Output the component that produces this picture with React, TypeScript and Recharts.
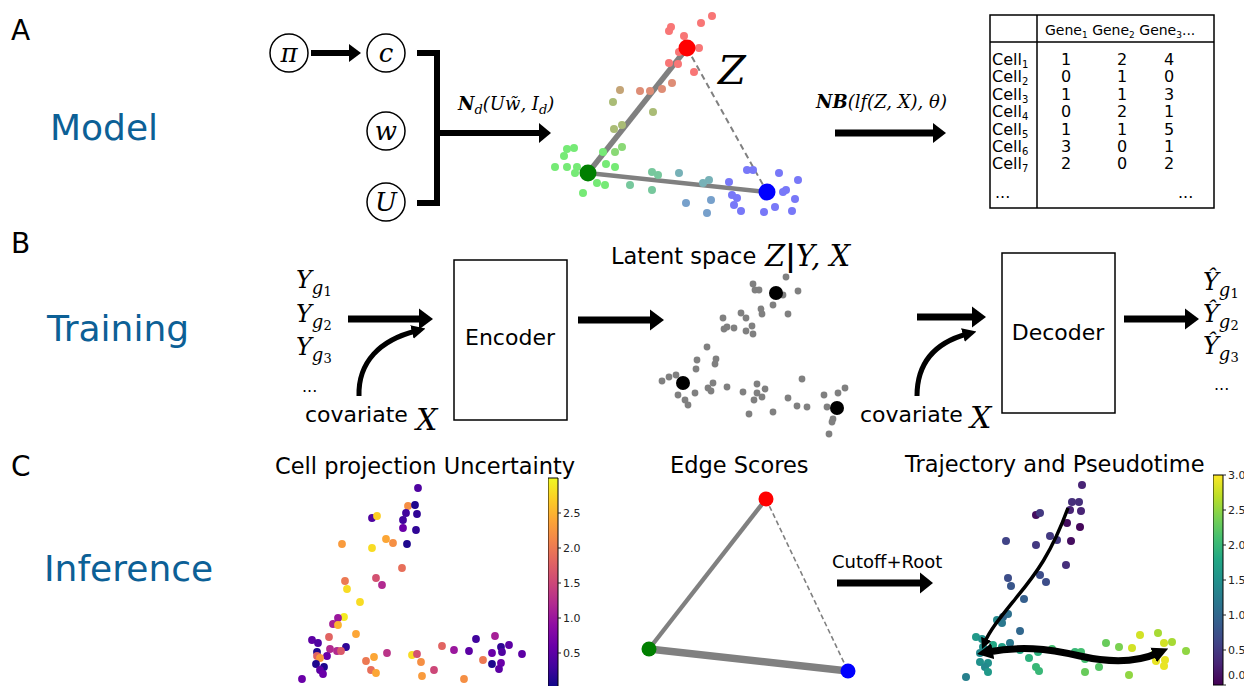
import React from "react";
import { ScatterChart, Scatter, XAxis, YAxis, ReferenceArea } from "recharts";

const SANS = "'DejaVu Sans', Verdana, sans-serif";
const SERIF = "'DejaVu Serif', 'Liberation Serif', serif";
const BLUE = "#0c6096";
const PAGE_H = 686;

// A: simulated cells, [x, y, pRed, pGreen, pBlue] (membership of the three vertices)
const modelCells: number[][] = [
  [17.2, 21.4, 1, 0, 0], [16.1, 20.7, 1, 0, 0], [13.1, 20.3, 1, 0, 0], [12.9, 19.9, 1, 0, 0],
  [14.4, 19.4, 1, 0, 0], [15.9, 18.2, 1, 0, 0], [13.9, 17.8, 1, 0, 0], [12.9, 16.7, 1, 0, 0],
  [13.8, 16.6, 1, 0, 0], [15.4, 15.8, 1, 0, 0],
  [13.2, 14.7, 0.8, 0.2, 0], [10.0, 13.9, 0.8, 0.2, 0], [11.0, 13.9, 0.8, 0.2, 0], [12.2, 14.1, 0.8, 0.2, 0],
  [8.0, 14.0, 0.6, 0.4, 0],
  [7.3, 12.8, 0.4, 0.6, 0], [11.3, 11.8, 0.4, 0.6, 0], [7.4, 10.1, 0.4, 0.6, 0], [8.2, 10.5, 0.4, 0.6, 0],
  [8.2, 8.3, 0.15, 0.85, 0], [7.5, 7.8, 0.15, 0.85, 0],
  [6.3, 7.8, 0, 1, 0], [3.4, 8.2, 0, 1, 0], [2.7, 8.1, 0, 1, 0], [2.4, 7.4, 0, 1, 0], [1.5, 6.3, 0, 1, 0],
  [2.7, 6.3, 0, 1, 0], [3.7, 6.3, 0, 1, 0], [3.5, 5.7, 0, 1, 0], [6.6, 6.6, 0, 1, 0], [7.5, 6.3, 0, 1, 0],
  [5.7, 4.7, 0, 1, 0], [6.5, 4.5, 0, 1, 0], [4.3, 3.7, 0, 1, 0],
  [9.0, 4.5, 0, 0.7, 0.3], [11.2, 5.8, 0, 0.7, 0.3], [11.8, 5.5, 0, 0.7, 0.3], [11.2, 4.0, 0, 0.7, 0.3],
  [13.9, 5.7, 0, 0.5, 0.5], [16.9, 5.0, 0, 0.5, 0.5], [16.3, 4.7, 0, 0.5, 0.5],
  [14.6, 2.7, 0, 0.35, 0.65], [17.1, 3.0, 0, 0.35, 0.65], [16.7, 1.7, 0, 0.35, 0.65],
  [20.7, 6.0, 0, 0, 1], [21.3, 6.0, 0, 0, 1], [18.9, 4.8, 0, 0, 1], [19.2, 3.5, 0, 0, 1], [19.7, 3.2, 0, 0, 1],
  [19.4, 2.5, 0, 0, 1], [20.1, 1.9, 0, 0, 1], [22.4, 1.8, 0, 0, 1], [23.5, 2.3, 0, 0, 1], [25.2, 1.9, 0, 0, 1],
  [23.9, 5.7, 0, 0, 1], [25.8, 5.0, 0, 0, 1], [24.6, 4.0, 0, 0, 1], [24.3, 3.8, 0, 0, 1], [25.5, 3.1, 0, 0, 1],
];
const modelVertices: Record<string, { x: number; y: number; color: string }> = {
  red: { x: 14.7, y: 18.2, color: "#ff0000" },
  green: { x: 4.8, y: 5.7, color: "#007f00" },
  blue: { x: 22.7, y: 3.8, color: "#0000ff" },
};
// [from, to, width, kept]
const modelEdges: [string, string, number, boolean][] = [
  ["red", "green", 5.5, true],
  ["green", "blue", 4.5, true],
  ["red", "blue", 2, false],
];

// B: latent space
const latentCells: number[][] = [
  [14.6, 16.8], [11.3, 16.1], [11.5, 15.5], [11.9, 15.5], [14.3, 15.0], [15.8, 15.4], [13.3, 14.0],
  [12.1, 13.6], [12.2, 13.1], [14.8, 13.1], [10.1, 13.2], [10.6, 12.7], [8.3, 12.7], [8.7, 11.8],
  [8.4, 11.6], [9.4, 11.7], [11.2, 11.9], [10.6, 11.4], [11.3, 11.1], [6.7, 9.8], [5.7, 8.5],
  [7.6, 8.6], [7.5, 8.1], [5.6, 7.6], [2.2, 6.4], [2.9, 6.8], [3.6, 7.0], [3.8, 5.0], [4.5, 4.5],
  [4.8, 4.0], [5.5, 5.2], [6.8, 5.7], [7.3, 6.2], [7.1, 5.4], [8.7, 5.8], [10.3, 5.3], [11.7, 6.1],
  [12.5, 5.6], [11.7, 5.2], [12.2, 4.8], [11.4, 4.5], [10.9, 3.1], [13.3, 3.3], [14.8, 4.7],
  [15.7, 3.9], [16.7, 3.8], [16.2, 6.6], [18.4, 5.0], [19.8, 5.2], [20.5, 5.7], [18.7, 3.8],
  [19.3, 2.6], [19.2, 2.3], [18.9, 1.1],
];
const latentCentroids: number[][] = [[13.6, 15.2], [4.3, 6.2], [19.7, 3.7]];

// C: projection uncertainty, [x, y, uncertainty]
const uncertaintyCells: number[][] = [
  [12.8, 19.8, 0.4], [11.8, 18.0, 2.2], [12.5, 18.1, 0.1], [11.6, 17.3, 0.3], [12.7, 17.2, 0.2],
  [8.2, 16.8, 0.4], [8.7, 17.0, 2.7], [11.3, 16.6, 0.3], [11.3, 15.8, 0.6], [12.6, 15.6, 0.2],
  [5.2, 14.2, 2.3], [9.6, 14.7, 2.4], [10.3, 14.3, 2.2], [8.2, 13.8, 2.8], [11.7, 14.2, 0.1],
  [11.2, 11.8, 1.9], [5.5, 10.5, 2.0], [8.6, 10.8, 1.6], [9.2, 10.1, 1.2], [5.7, 9.7, 2.8],
  [7.0, 8.4, 2.8], [5.4, 6.9, 2.9], [4.8, 6.8, 1.0], [4.3, 6.2, 1.1], [4.8, 6.1, 2.5],
  [6.6, 5.2, 2.4], [3.9, 4.9, 1.8], [2.2, 4.6, 0.5], [2.8, 4.3, 0.4], [5.6, 3.9, 0.2],
  [4.0, 3.7, 1.2], [4.7, 3.5, 1.2], [5.1, 3.5, 1.7], [2.7, 3.4, 0.1], [3.7, 3.0, 0.6],
  [2.7, 3.0, 1.8], [3.0, 2.8, 2.3], [2.6, 2.2, 0.1], [3.4, 1.9, 0.1], [3.0, 1.6, 0.5],
  [3.3, 1.2, 0.6], [1.2, 0.7, 0.6], [7.6, 2.5, 2.0], [8.4, 2.9, 2.4], [8.1, 1.6, 1.9],
  [8.6, 1.3, 2.4], [9.7, 3.3, 1.3], [12.2, 3.1, 2.8], [12.7, 3.2, 1.6], [13.1, 2.4, 2.2],
  [13.2, 1.0, 2.3], [14.4, 1.6, 1.5], [15.2, 4.0, 1.8], [16.4, 3.6, 1.0], [17.9, 3.5, 0.5],
  [17.4, 0.7, 2.2], [18.6, 4.7, 0.3], [20.5, 5.0, 1.1], [19.3, 2.6, 2.0], [20.2, 3.3, 0.6],
  [21.1, 3.9, 0.2], [21.2, 3.4, 0.4], [21.9, 4.1, 0.5], [20.2, 2.2, 0.1], [21.1, 2.3, 0.6],
  [20.9, 1.7, 0.5], [23.2, 3.2, 0.5],
];

// C: edge scores
const edgeNodes: Record<string, { x: number; y: number; color: string }> = {
  red: { x: 13.6, y: 18.7, color: "#ff0000" },
  green: { x: 1.9, y: 3.7, color: "#007f00" },
  blue: { x: 21.8, y: 1.5, color: "#0000ff" },
};
const edgeScores: [string, string, number][] = [
  ["green", "red", 0.55],
  ["green", "blue", 0.92],
  ["red", "blue", 0.2],
];
const scoreCutoff = 0.5;

// C: pseudotime, [x, y, pseudotime]
const pseudotimeCells: number[][] = [
  [13.2, 20.1, 0.3], [12.2, 18.4, 0.4], [12.9, 18.4, 0.4], [12.0, 17.6, 0.3], [13.1, 17.5, 0.3],
  [8.6, 17.1, 0.1], [9.0, 17.3, 0.5], [11.7, 16.3, 0.1], [13.0, 15.9, 0.05], [5.6, 14.5, 0.6],
  [10.0, 15.0, 0.5], [10.7, 14.6, 0.5], [12.1, 14.5, 0.1], [8.6, 14.1, 0.5], [11.6, 12.1, 0.4],
  [5.8, 10.8, 0.7], [9.0, 11.1, 0.7], [6.1, 10.0, 0.8], [9.6, 10.4, 0.7], [7.4, 8.7, 0.9],
  [5.8, 7.2, 1.1], [5.3, 6.9, 1.0], [4.7, 6.6, 1.4], [5.2, 6.3, 1.2], [7.0, 5.5, 1.0],
  [2.6, 4.9, 1.6], [3.2, 4.7, 1.5], [6.0, 4.3, 1.2], [4.3, 4.1, 1.8], [5.2, 3.9, 1.7],
  [3.3, 3.9, 1.5], [3.0, 3.3, 1.4], [7.0, 3.6, 1.8], [3.0, 2.4, 1.5], [3.8, 2.3, 1.5],
  [3.5, 1.9, 1.4], [3.8, 1.4, 1.6], [1.6, 0.9, 1.3], [7.9, 2.8, 1.9], [8.6, 1.9, 2.0],
  [8.9, 1.5, 2.0], [8.8, 3.4, 1.9], [10.2, 3.7, 2.1], [12.5, 3.4, 2.0], [13.1, 3.4, 2.1],
  [13.5, 2.7, 2.1], [13.5, 1.4, 2.3], [14.9, 1.9, 2.2], [15.6, 4.3, 2.3], [16.9, 3.9, 2.4],
  [17.9, 1.1, 2.5], [18.2, 3.8, 2.8], [19.0, 5.1, 2.8], [20.8, 5.3, 2.6], [21.4, 4.3, 2.8],
  [22.2, 4.4, 2.6], [23.6, 3.5, 2.5], [20.6, 2.5, 2.9], [21.5, 2.6, 2.9], [21.4, 2.0, 2.9],
  [20.5, 3.3, 2.6],
];

const uncertaintyTicks = [0.5, 1.0, 1.5, 2.0, 2.5];
const pseudotimeTicks = [0, 0.5, 1.0, 1.5, 2.0, 2.5, 3.0];

// table in panel A
const genes = ["1", "2", "3"];
const cellNames = ["1", "2", "3", "4", "5", "6", "7"];
const geneCounts = [
  [1, 2, 4], [0, 1, 0], [1, 1, 3], [0, 2, 1], [1, 1, 5], [3, 0, 1], [2, 0, 2],
];

const PLASMA = ["#0d0887", "#41049d", "#6a00a8", "#8f0da4", "#b12a90", "#cc4778", "#e16462", "#f2844b", "#fca636", "#fcce25", "#f0f921"];
const VIRIDIS = ["#440154", "#482475", "#414487", "#355f8d", "#2a788e", "#21918c", "#22a884", "#44bf70", "#7ad151", "#bddf26", "#fde725"];
const MIX_BASE = [[248, 118, 118], [118, 234, 118], [120, 120, 248]];

const hexToRgb = (h: string) => [1, 3, 5].map((i) => parseInt(h.slice(i, i + 2), 16));
function cmap(stops: string[], t: number) {
  const s = Math.min(Math.max(t, 0), 1) * (stops.length - 1);
  const i = Math.min(Math.floor(s), stops.length - 2);
  const f = s - i;
  const a = hexToRgb(stops[i]);
  const b = hexToRgb(stops[i + 1]);
  return `rgb(${a.map((v, k) => Math.round(v + (b[k] - v) * f)).join(",")})`;
}
function mixColor(p: number[]) {
  const c = [0, 1, 2].map((k) => Math.round(p[0] * MIX_BASE[0][k] + p[1] * MIX_BASE[1][k] + p[2] * MIX_BASE[2][k]));
  return `rgb(${c.join(",")})`;
}

const dot = (r: number, color: (p: any) => string) => (props: any) =>
  <circle cx={props.cx} cy={props.cy} r={r} fill={color(props.payload)} />;
const noShape = () => <g />;

function Panel({ left, top, width, height, xMax, yMax, children }: any) {
  return (
    <div style={{ position: "absolute", left, top }}>
      <ScatterChart width={width} height={height} margin={{ top: 0, right: 0, bottom: 0, left: 0 }}>
        <XAxis type="number" dataKey="x" domain={[0, xMax]} hide />
        <YAxis type="number" dataKey="y" domain={[0, yMax]} hide />
        {children}
      </ScatterChart>
    </div>
  );
}

// tick label kept inside the page when the bar runs past the bottom edge (y is chart-local)
const barTick = (maxY: number) => (props: any) => {
  const { x, y, payload } = props;
  return (
    <text x={x} y={Math.min(Number(y), maxY)} dy={4} fontSize={11} fill="#222" fontFamily={SANS}>
      {Number(payload.value).toFixed(1)}
    </text>
  );
};

function ColorBar({ left, top, id, stops, max, ticks }: any) {
  return (
    <div style={{ position: "absolute", left, top }}>
      <ScatterChart width={46} height={226} margin={{ top: 8, right: 0, bottom: 8, left: 0 }}>
        <defs>
          <linearGradient id={id} x1="0" y1="1" x2="0" y2="0">
            {stops.map((c: string, i: number) => (
              <stop key={i} offset={i / (stops.length - 1)} stopColor={c} />
            ))}
          </linearGradient>
        </defs>
        <XAxis type="number" dataKey="x" domain={[0, 1]} hide />
        <YAxis
          type="number"
          dataKey="y"
          orientation="right"
          domain={[0, max]}
          ticks={ticks}
          interval={0}
          width={36}
          tickSize={3}
          axisLine={false}
          tickLine={{ stroke: "#222" }}
          tick={barTick(PAGE_H - top - 11)}
        />
        <ReferenceArea x1={0} x2={1} y1={0} y2={max} fill={`url(#${id})`} fillOpacity={1} stroke="#000" strokeWidth={1} ifOverflow="visible" />
        <Scatter data={[{ x: 0.5, y: 0 }]} shape={noShape} isAnimationActive={false} />
      </ScatterChart>
    </div>
  );
}

function HArrow({ x1, x2, y, t = 6, hl = 13, hh = 20 }: any) {
  return (
    <g>
      <rect x={x1} y={y - t / 2} width={x2 - hl - x1 + 1} height={t} fill="#000" />
      <polygon points={`${x2 - hl},${y - hh / 2} ${x2},${y} ${x2 - hl},${y + hh / 2}`} fill="#000" />
    </g>
  );
}

function Node({ cx, cy, label }: any) {
  return (
    <g>
      <circle cx={cx} cy={cy} r={19} fill="#fff" stroke="#000" strokeWidth={1.5} />
      <text x={cx} y={cy + 9} textAnchor="middle" fontFamily={SERIF} fontStyle="italic" fontSize={26}>{label}</text>
    </g>
  );
}

function YLabel({ x, y, i, hat }: any) {
  return (
    <text x={x} y={y} fontFamily={SERIF} fontStyle="italic" fontSize={24}>
      {hat ? "Ŷ" : "Y"}
      <tspan fontSize={18} dy={6}>g</tspan>
      <tspan fontSize={13} dy={2} fontStyle="normal">{i}</tspan>
    </text>
  );
}

function Overlay() {
  return (
    <svg width={1244} height={686} style={{ position: "absolute", left: 0, top: 0, pointerEvents: "none" }}>
      <defs>
        <marker id="head" viewBox="0 0 10 10" refX="3" refY="5" markerWidth="14" markerHeight="16" markerUnits="userSpaceOnUse" orient="auto-start-reverse">
          <path d="M0,0 L10,5 L0,10 z" fill="#000" />
        </marker>
        <marker id="headS" viewBox="0 0 10 10" refX="3" refY="5" markerWidth="11" markerHeight="12" markerUnits="userSpaceOnUse" orient="auto-start-reverse">
          <path d="M0,0 L10,5 L0,10 z" fill="#000" />
        </marker>
        <marker id="headL" viewBox="0 0 10 10" refX="3" refY="5" markerWidth="16" markerHeight="18" markerUnits="userSpaceOnUse" orient="auto-start-reverse">
          <path d="M0,0 L10,5 L0,10 z" fill="#000" />
        </marker>
      </defs>

      {/* section letters and row titles */}
      <g fontFamily={SANS} fontSize={28}>
        <text x={11} y={40}>A</text>
        <text x={11} y={253}>B</text>
        <text x={11} y={476}>C</text>
      </g>
      <g fontFamily={SANS} fontSize={36} fill={BLUE}>
        <text x={50} y={140}>Model</text>
        <text x={47} y={341}>Training</text>
        <text x={44} y={581}>Inference</text>
      </g>

      {/* A: generative model */}
      <Node cx={289} cy={53} label="π" />
      <Node cx={386} cy={53} label="c" />
      <Node cx={386} cy={131} label="w" />
      <Node cx={386} cy={202} label="U" />
      <HArrow x1={311} x2={361} y={53} t={6} hl={12} hh={18} />
      <path d="M417,53 H437 V203 H417" fill="none" stroke="#000" strokeWidth={6} />
      <HArrow x1={437} x2={551} y={133} t={6} hl={12} hh={20} />
      <text x={458} y={110} fontFamily={SERIF} fontStyle="italic" fontSize={18}>
        <tspan fontWeight="bold">N</tspan>
        <tspan fontSize={13} dy={4}>d</tspan>
        <tspan dy={-4}>(</tspan>
        <tspan>Uw̃, I</tspan>
        <tspan fontSize={13} dy={4}>d</tspan>
        <tspan dy={-4}>)</tspan>
      </text>
      <text x={718} y={84} fontFamily={SERIF} fontStyle="italic" fontSize={40}>Z</text>
      <text x={816} y={108} fontFamily={SERIF} fontStyle="italic" fontSize={18}>
        <tspan fontWeight="bold">NB</tspan>(lf(Z, X), θ)
      </text>
      <HArrow x1={835} x2={946} y={133} t={7} hl={13} hh={20} />

      {/* A: count table */}
      <rect x={990} y={15} width={224} height={193} fill="none" stroke="#000" strokeWidth={1.5} />
      <line x1={1037} y1={15} x2={1037} y2={208} stroke="#000" strokeWidth={1.5} />
      <line x1={990} y1={42} x2={1214} y2={42} stroke="#000" strokeWidth={1.5} />
      <text x={1045} y={35} fontFamily={SANS} fontSize={14}>
        {genes.map((g, i) => (
          <React.Fragment key={g}>
            <tspan dy={i === 0 ? 0 : -3}>{i === 0 ? "Gene" : " Gene"}</tspan>
            <tspan fontSize={9} dy={3}>{g}</tspan>
          </React.Fragment>
        ))}
        <tspan dy={-3}>...</tspan>
      </text>
      {cellNames.map((c, r) => (
        <g key={c} fontFamily={SANS} fontSize={16}>
          <text x={992} y={65 + r * 17.4}>
            Cell<tspan fontSize={10} dy={3}>{c}</tspan>
          </text>
          {geneCounts[r].map((v, k) => (
            <text key={k} x={[1066, 1122, 1169][k]} y={65 + r * 17.4} textAnchor="middle">{v}</text>
          ))}
        </g>
      ))}
      <text x={995} y={198} fontFamily={SANS} fontSize={16}>...</text>
      <text x={1178} y={198} fontFamily={SANS} fontSize={16}>...</text>

      {/* B: training */}
      <YLabel x={296} y={288} i="1" />
      <YLabel x={296} y={322} i="2" />
      <YLabel x={296} y={355} i="3" />
      <text x={302} y={392} fontFamily={SANS} fontSize={16}>...</text>
      <HArrow x1={348} x2={433} y={319} t={7} hl={14} hh={21} />
      <path d="M359,396 C358,362 380,340 416,331" fill="none" stroke="#000" strokeWidth={5} markerEnd="url(#head)" />
      <text x={305} y={422} fontFamily={SANS} fontSize={22}>covariate</text>
      <text x={416} y={430} fontFamily={SERIF} fontStyle="italic" fontSize={30}>X</text>
      <rect x={454} y={260} width={113} height={160} fill="none" stroke="#000" strokeWidth={1.5} />
      <text x={510} y={345} textAnchor="middle" fontFamily={SANS} fontSize={22}>Encoder</text>
      <HArrow x1={578} x2={664} y={320} t={7} hl={14} hh={21} />
      <text x={611} y={264} fontFamily={SANS} fontSize={22.5}>Latent space</text>
      <text x={765} y={266} fontFamily={SERIF} fontStyle="italic" fontSize={29}>
        Z<tspan fontStyle="normal" fontWeight="bold">|</tspan>Y, X
      </text>
      <HArrow x1={917} x2={986} y={317} t={7} hl={14} hh={21} />
      <path d="M917,396 C917,360 938,342 967,334" fill="none" stroke="#000" strokeWidth={5} markerEnd="url(#head)" />
      <text x={860} y={422} fontFamily={SANS} fontSize={22}>covariate</text>
      <text x={970} y={428} fontFamily={SERIF} fontStyle="italic" fontSize={30}>X</text>
      <rect x={1002} y={253} width={113} height={160} fill="none" stroke="#000" strokeWidth={1.5} />
      <text x={1058} y={340} textAnchor="middle" fontFamily={SANS} fontSize={22}>Decoder</text>
      <HArrow x1={1124} x2={1199} y={319} t={7} hl={14} hh={21} />
      <YLabel x={1203} y={290} i="1" hat />
      <YLabel x={1203} y={322} i="2" hat />
      <YLabel x={1203} y={354} i="3" hat />
      <text x={1214} y={390} fontFamily={SANS} fontSize={16}>...</text>

      {/* C: inference */}
      <g fontFamily={SANS} fontSize={22.5}>
        <text x={275} y={474}>Cell projection Uncertainty</text>
        <text x={670} y={473}>Edge Scores</text>
        <text x={905} y={472}>Trajectory and Pseudotime</text>
      </g>
      <text x={832} y={568} fontFamily={SANS} fontSize={18}>Cutoff+Root</text>
      <HArrow x1={837} x2={933} y={583} t={7} hl={13} hh={21} />
      <path d="M1068,508 C1052,552 1036,574 1016,598 C1000,618 990,630 985,642" fill="none" stroke="#000" strokeWidth={3.5} markerEnd="url(#headS)" />
      <path d="M988,652 C1020,646 1045,648 1080,656 C1115,664 1140,661 1158,653" fill="none" stroke="#000" strokeWidth={7} markerEnd="url(#headL)" markerStart="url(#headL)" />
    </svg>
  );
}

export default function App() {
  const modelData = modelCells.map(([x, y, r, g, b]) => ({ x, y, p: [r, g, b] }));
  const latentData = latentCells.map(([x, y]) => ({ x, y }));
  const centroidData = latentCentroids.map(([x, y]) => ({ x, y }));
  const uncData = uncertaintyCells.map(([x, y, v]) => ({ x, y, v }));
  const ptData = pseudotimeCells.map(([x, y, v]) => ({ x, y, v }));

  return (
    <div style={{ position: "fixed", left: 0, top: 0, width: 1244, height: PAGE_H, overflow: "hidden", background: "#fff" }}>
      {/* A: cells around the simplex */}
      <Panel left={540} top={0} width={280} height={230} xMax={28} yMax={23}>
        {modelEdges.map(([a, b, w, kept], i) => (
          <Scatter
            key={"me" + i}
            data={[modelVertices[a], modelVertices[b]]}
            line={{ stroke: "#808080", strokeWidth: w, strokeDasharray: kept ? undefined : "6 4" }}
            shape={noShape}
            isAnimationActive={false}
          />
        ))}
        <Scatter data={modelData} shape={dot(4, (p) => mixColor(p.p))} isAnimationActive={false} />
        <Scatter data={Object.values(modelVertices)} shape={dot(8.5, (p) => p.color)} isAnimationActive={false} />
      </Panel>

      {/* B: latent space */}
      <Panel left={640} top={265} width={230} height={180} xMax={23} yMax={18}>
        <Scatter data={latentData} shape={dot(3.4, () => "#808080")} isAnimationActive={false} />
        <Scatter data={centroidData} shape={dot(7, () => "#000")} isAnimationActive={false} />
      </Panel>

      {/* C: uncertainty */}
      <Panel left={290} top={475} width={250} height={211} xMax={25} yMax={21.1}>
        <Scatter data={uncData} shape={dot(3.9, (p) => cmap(PLASMA, p.v / 3))} isAnimationActive={false} />
      </Panel>
      <ColorBar left={548} top={470} id="plasmaBar" stops={PLASMA} max={3} ticks={uncertaintyTicks} />

      {/* C: edge scores */}
      <Panel left={630} top={480} width={240} height={206} xMax={24} yMax={20.6}>
        {edgeScores.map(([a, b, s], i) => (
          <Scatter
            key={"es" + i}
            data={[edgeNodes[a], edgeNodes[b]]}
            line={{ stroke: "#808080", strokeWidth: s * 8, strokeDasharray: s < scoreCutoff ? "5 3" : undefined }}
            shape={noShape}
            isAnimationActive={false}
          />
        ))}
        <Scatter data={Object.values(edgeNodes)} shape={dot(7.5, (p) => p.color)} isAnimationActive={false} />
      </Panel>

      {/* C: pseudotime */}
      <Panel left={950} top={475} width={260} height={211} xMax={26} yMax={21.1}>
        <Scatter data={ptData} shape={dot(4, (p) => cmap(VIRIDIS, p.v / 3))} isAnimationActive={false} />
      </Panel>
      <ColorBar left={1213} top={467} id="viridisBar" stops={VIRIDIS} max={3} ticks={pseudotimeTicks} />

      <Overlay />
    </div>
  );
}
